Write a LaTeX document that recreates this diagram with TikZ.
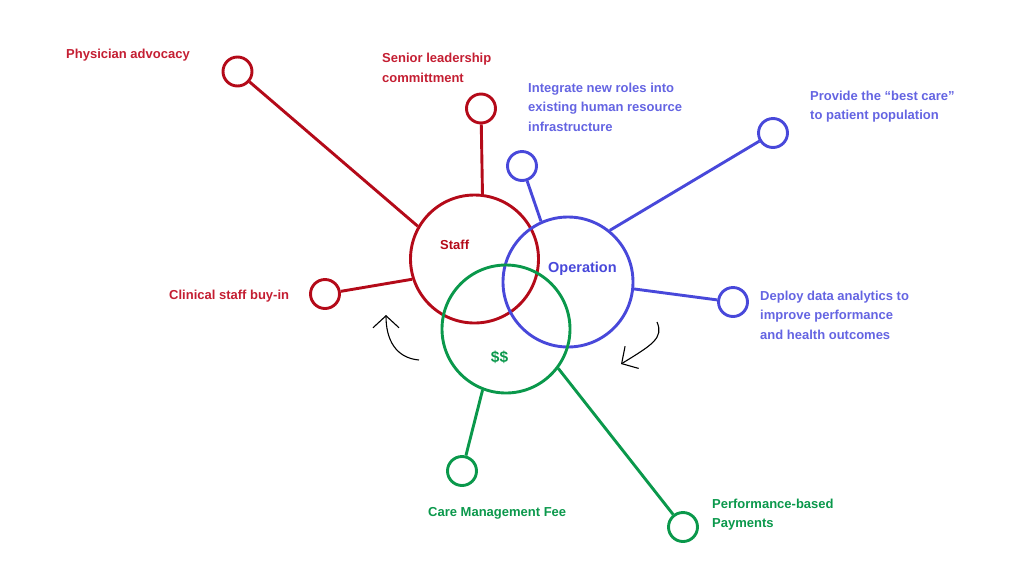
\documentclass[tikz,border=0pt]{standalone}
\usepackage{fontspec}
\setmainfont{Liberation Sans}
\usetikzlibrary{arrows.meta}
\definecolor{rline}{RGB}{180,10,25}
\definecolor{rtext}{RGB}{196,30,50}
\definecolor{bline}{RGB}{72,72,218}
\definecolor{btext}{RGB}{100,100,226}
\definecolor{gline}{RGB}{10,152,75}
\definecolor{gtext}{RGB}{10,152,75}
\begin{document}
\begin{tikzpicture}[x=1pt,y=-1pt,
  big/.style={circle,draw,line width=2.9pt,minimum size=128pt,inner sep=0pt},
  small/.style={circle,draw,line width=2.9pt,minimum size=29pt,inner sep=0pt},
  conn/.style={line width=2.9pt},
  lbl/.style={font=\fontsize{13}{19.5}\selectfont\bfseries,anchor=west,align=left,inner sep=0pt},
  curv/.style={line width=1.1pt,black,-{Straight Barb[length=12pt,width=26pt,line width=1.1pt]}}]
\useasboundingbox (0,0) rectangle (1034,566);
% big circles
\node[big,rline] (staff) at (474.5,259) {};
\node[big,bline,minimum size=130pt] (op) at (568,282) {};
\node[big,gline] (dol) at (506,329) {};
\node[lbl,text=rline] (staffl) at (440,245) {Staff};
\node[lbl,text=bline,font=\fontsize{14.5}{16}\selectfont\bfseries] (opl) at (548,268.5) {Operation};
\node[lbl,text=gline,anchor=center,font=\fontsize{15.5}{16}\selectfont\bfseries] (doll) at (499.5,357.5) {\$\$};
% small circles
\node[small,rline] (phys) at (237.5,71.5) {};
\node[small,rline] (sen) at (481,108.5) {};
\node[small,rline] (clin) at (325,294) {};
\node[small,bline] (integ) at (522,166) {};
\node[small,bline] (prov) at (773,133) {};
\node[small,bline] (depl) at (733,302) {};
\node[small,gline] (care) at (462,471) {};
\node[small,gline] (perf) at (683,527) {};
% connectors
\draw[conn,rline] (phys) -- (staff.150);
\draw[conn,rline] (sen) -- (staff.83);
\draw[conn,rline] (clin) -- (staff.198);
\draw[conn,bline] (integ) -- (op.114);
\draw[conn,bline] (prov) -- (op.51);
\draw[conn,bline] (depl) -- (op.354);
\draw[conn,gline] (care) -- (dol.249);
\draw[conn,gline] (perf) -- (dol.323);
% labels
\node[lbl,text=rtext] (physl) at (66,55.5) {Physician advocacy};
\node[lbl,text=rtext] (senl) at (382,68) {Senior leadership\\committment};
\node[lbl,text=rtext] (clinl) at (169,296) {Clinical staff buy-in};
\node[lbl,text=btext] (integl) at (528,107) {Integrate new roles into\\existing human resource\\infrastructure};
\node[lbl,text=btext] (provl) at (810,106.5) {Provide the “best care”\\to patient population};
\node[lbl,text=btext] (depll) at (760,315) {Deploy data analytics to\\improve performance\\and health outcomes};
\node[lbl,text=gtext] (carel) at (428,513.5) {Care Management Fee};
\node[lbl,text=gtext] (perfl) at (712,514.5) {Performance-based\\Payments};
% curved arrows
\coordinate (a1s) at (419,360);
\coordinate (a1e) at (386,315);
\draw[curv] (a1s) .. controls (396,358) and (386,340) .. (a1e);
\coordinate (a2s) at (657,322);
\coordinate (a2e) at (621,364);
\draw[curv] (a2s) .. controls (664,338) and (652,345) .. (a2e);
\end{tikzpicture}
\end{document}
